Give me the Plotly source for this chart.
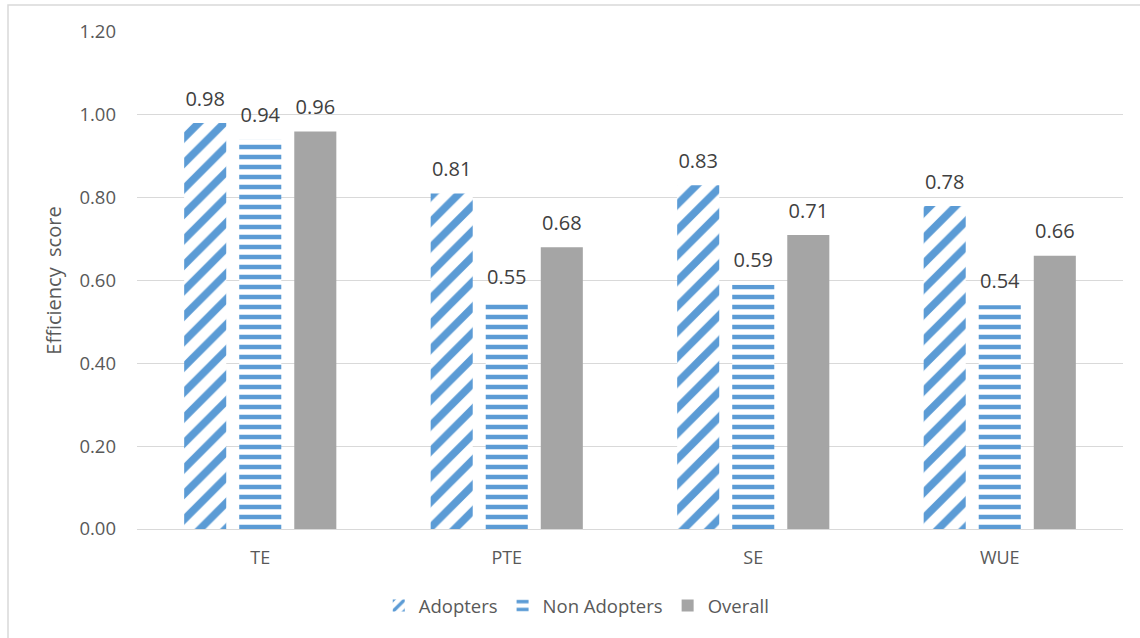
import plotly.graph_objects as go

categories = ["TE", "PTE", "SE", "WUE"]
adopters = [0.98, 0.81, 0.83, 0.78]
non_adopters = [0.94, 0.55, 0.59, 0.54]
overall = [0.96, 0.68, 0.71, 0.66]

BLUE = "#5B9BD5"
GRAY = "#A5A5A5"
TXT = "#595959"
LBL = "#404040"
FONT = "Open Sans"

series = [
    ("Adopters", adopters, dict(color="white", line=dict(width=0),
        pattern=dict(shape="/", fgcolor=BLUE, bgcolor="white", size=18, solidity=0.42, fillmode="replace"))),
    ("Non Adopters", non_adopters, dict(color="white", line=dict(width=0),
        pattern=dict(shape="-", fgcolor=BLUE, bgcolor="white", size=10, solidity=0.45, fillmode="replace"))),
    ("Overall", overall, dict(color=GRAY, line=dict(width=0))),
]

fig = go.Figure()
for i, (name, vals, marker) in enumerate(series):
    fig.add_trace(go.Bar(name=name, x=categories, y=vals, marker=marker,
                         offsetgroup=str(i), hoverinfo="skip"))
for i, (name, vals, marker) in enumerate(series):
    fig.add_trace(go.Scatter(
        x=categories, y=vals, mode="markers+text", offsetgroup=str(i),
        marker=dict(size=18, opacity=0, color="white"),
        text=[f"{v:.2f}" for v in vals], textposition="top center",
        textfont=dict(size=20, color=LBL, family=FONT),
        showlegend=False, hoverinfo="skip", cliponaxis=False,
    ))

fig.update_layout(
    width=1140, height=638,
    margin=dict(l=137, r=17, t=32, b=109, autoexpand=False),
    paper_bgcolor="white", plot_bgcolor="white",
    barmode="group", bargap=0.33, bargroupgap=0.236,
    scattermode="group", scattergap=0.33,
    font=dict(family=FONT, color=TXT, size=18),
    legend=dict(orientation="h", x=0.446, xanchor="center", y=-0.155, yanchor="middle",
                font=dict(size=18.5, color=TXT, family=FONT), itemwidth=30, traceorder="normal"),
    xaxis=dict(showgrid=False, showline=True, linecolor="#D9D9D9", linewidth=1,
               ticks="", ticklabelstandoff=12, tickfont=dict(size=18, color=TXT)),
    yaxis=dict(range=[0, 1.2], dtick=0.2, tickformat=".2f", showgrid=True,
               gridcolor="#D9D9D9", gridwidth=1, zeroline=False, showline=False,
               ticks="", ticklabelstandoff=20, tickfont=dict(size=18.5, color=TXT),
               title=dict(text="Efficiency  score", font=dict(size=20, color=TXT), standoff=12)),
    shapes=[dict(type="rect", xref="paper", yref="paper", x0=-129/986, x1=1.03, y0=-0.25, y1=1 + 27/497,
                 line=dict(color="#D9D9D9", width=1.5), fillcolor="rgba(0,0,0,0)", layer="below")],
)

fig.write_html("out.html")
